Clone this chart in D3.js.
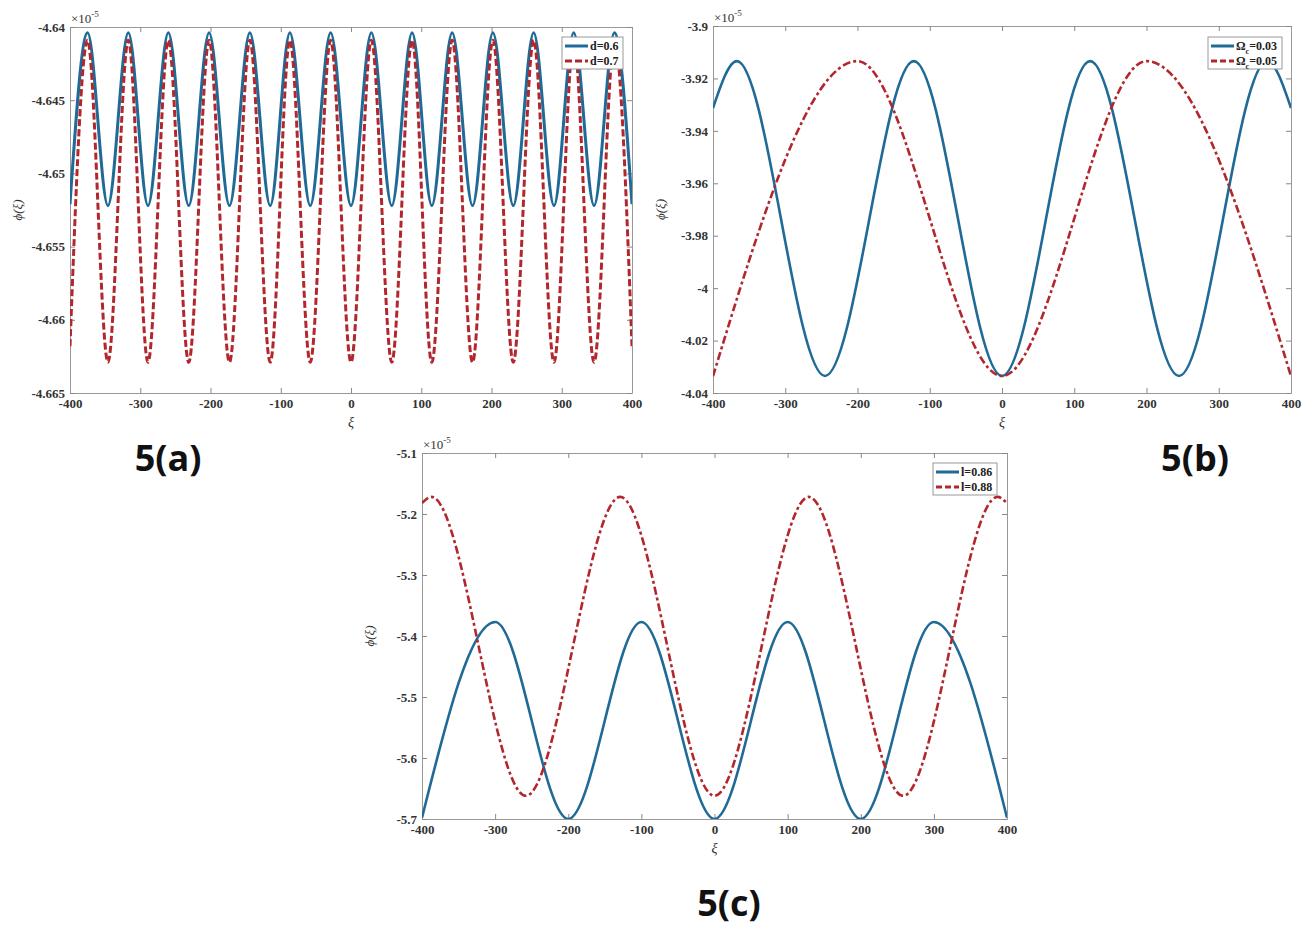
<!DOCTYPE html>
<html lang="en">
<head>
	<meta charset="UTF-8">
	<title>Figure 5 - phi(xi) profiles</title>
	<script src="https://d3js.org/d3.v7.min.js"></script>
	<style>
		body { margin: 0; background: #fff; }
		.tick text { font-family: "Liberation Serif", "Times New Roman", serif; font-weight: bold; font-size: 13px; fill: #333; }
		.tick line { stroke: #888; }
		.domain { stroke: #999; }
	</style>
</head>
<body>
	<svg width="1304" height="928"></svg>
	<script>

		// Panel (a): d = 0.6 / 0.7, values in units of 1e-5
		var xiA = [-400, -375, -346, -317, -289, -260, -231, -202, -173, -144, -115, -87, -58, -29, 0,
			29, 58, 87, 115, 144, 173, 202, 231, 260, 289, 317, 346, 375, 400];
		var d06 = [-4.6521, -4.6404, -4.6522, -4.6404, -4.6522, -4.6404, -4.6522, -4.6404, -4.6522, -4.6404, -4.6522, -4.6404, -4.6522, -4.6404, -4.6522,
			-4.6404, -4.6522, -4.6404, -4.6522, -4.6404, -4.6522, -4.6404, -4.6522, -4.6404, -4.6522, -4.6404, -4.6522, -4.6404, -4.6521];
		var d07 = [-4.6618, -4.6409, -4.6629, -4.6409, -4.6629, -4.6409, -4.6629, -4.6409, -4.6629, -4.6409, -4.6629, -4.6409, -4.6629, -4.6409, -4.6629,
			-4.6409, -4.6629, -4.6409, -4.6629, -4.6409, -4.6629, -4.6409, -4.6629, -4.6409, -4.6629, -4.6409, -4.6629, -4.6409, -4.6618];
		var yTicksA = [-4.665, -4.66, -4.655, -4.65, -4.645, -4.64];

		// Panel (b): Omega_c = 0.03 / 0.05
		var xiB1 = [-400, -367, -245, -122, 0, 122, 245, 367, 400];
		var omega003 = [-3.9313, -3.9134, -4.0335, -3.9134, -4.0335, -3.9134, -4.0335, -3.9134, -3.9313];
		var xiB2 = [-400, -200, 0, 200, 400];
		var omega005 = [-4.0336, -3.9134, -4.0335, -3.9134, -4.0336];
		var yTicksB = [-4.04, -4.02, -4, -3.98, -3.96, -3.94, -3.92, -3.9];

		// Panel (c): l = 0.86 / 0.88
		var xiC1 = [-400, -300, -200, -100, 0, 100, 200, 300, 400];
		var l086 = [-5.698, -5.377, -5.700, -5.377, -5.700, -5.377, -5.700, -5.377, -5.698];
		var xiC2 = [-400, -387, -258, -129, 0, 129, 258, 387, 400];
		var l088 = [-5.182, -5.172, -5.662, -5.172, -5.662, -5.172, -5.662, -5.172, -5.182];
		var yTicksC = [-5.7, -5.6, -5.5, -5.4, -5.3, -5.2, -5.1];

		var xTicks = [-400, -300, -200, -100, 0, 100, 200, 300, 400];

		var blue = "#1f6a96";
		var red = "#b3262c";

		var svg = d3.select("svg");

		function fmt(v) {
			return String(+v.toFixed(4)); // keep plain hyphen minus
		}

		function drawPanel(p) {
			var x = d3.scaleLinear().domain([-400, 400]).range([p.left, p.right]);
			var y = d3.scaleLinear().domain(p.yDomain).range([p.bottom, p.top]);

			var g = svg.append("g");

			// clip so curves stay inside the box
			g.append("clipPath").attr("id", "clip" + p.id)
				.append("rect")
				.attr("x", p.left).attr("y", p.top)
				.attr("width", p.right - p.left).attr("height", p.bottom - p.top);

			// Axes (MATLAB style box with inward ticks)
			g.append("g")
				.attr("transform", "translate(0," + p.bottom + ")")
				.call(d3.axisBottom(x).tickValues(xTicks).tickSizeInner(-5).tickSizeOuter(0).tickPadding(6).tickFormat(fmt));
			g.append("g")
				.attr("transform", "translate(0," + p.top + ")")
				.call(d3.axisTop(x).tickValues(xTicks).tickSizeInner(-5).tickSizeOuter(0).tickFormat(""));
			g.append("g")
				.attr("transform", "translate(" + p.left + ",0)")
				.call(d3.axisLeft(y).tickValues(p.yTicks).tickSizeInner(-5).tickSizeOuter(0).tickPadding(5).tickFormat(fmt));
			g.append("g")
				.attr("transform", "translate(" + p.right + ",0)")
				.call(d3.axisRight(y).tickValues(p.yTicks).tickSizeInner(-5).tickSizeOuter(0).tickFormat(""));

			// exponent label
			var ex = g.append("text")
				.attr("x", p.left + 1)
				.attr("y", p.top - 4)
				.style("font-family", "Liberation Serif, serif")
				.style("font-size", "13px")
				.style("fill", "#333");
			ex.append("tspan").text("\u00d710");
			ex.append("tspan").attr("dy", -6).style("font-size", "9px").text("-5");

			// axis labels
			g.append("text")
				.attr("x", (p.left + p.right) / 2)
				.attr("y", p.bottom + 34)
				.attr("text-anchor", "middle")
				.style("font-family", "Liberation Serif, serif")
				.style("font-style", "italic")
				.style("font-size", "14px")
				.style("fill", "#333")
				.text("\u03be");
			g.append("text")
				.attr("transform", "translate(" + (p.left - 48) + "," + ((p.top + p.bottom) / 2) + ") rotate(-90)")
				.attr("text-anchor", "middle")
				.style("font-family", "Liberation Serif, serif")
				.style("font-style", "italic")
				.style("font-size", "13px")
				.style("fill", "#333")
				.text("\u03d5(\u03be)");

			// Curves
			var line = d3.line()
				.x(function(d) { return x(d[0]); })
				.y(function(d) { return y(d[1]); })
				.curve(d3.curveMonotoneX);

			p.series.forEach(function(s) {
				g.append("path")
					.datum(d3.zip(s.xs, s.ys))
					.attr("clip-path", "url(#clip" + p.id + ")")
					.attr("fill", "none")
					.attr("stroke", s.color)
					.attr("stroke-width", p.lw)
					.attr("stroke-dasharray", s.dash)
					.attr("d", line);
			});

			// Legend
			var lg = g.append("g").attr("transform", "translate(" + p.legend[0] + "," + p.legend[1] + ")");
			lg.append("rect")
				.attr("width", p.legend[2])
				.attr("height", p.series.length * 15 + 2)
				.attr("fill", "#fff")
				.attr("stroke", "#999")
				.attr("stroke-width", 1);
			p.series.forEach(function(s, i) {
				var yy = 9 + i * 15;
				lg.append("line")
					.attr("x1", 3).attr("x2", 26)
					.attr("y1", yy).attr("y2", yy)
					.attr("stroke", s.color)
					.attr("stroke-width", 3)
					.attr("stroke-dasharray", s.legendDash);
				var t = lg.append("text")
					.attr("x", 28)
					.attr("y", yy + 4)
					.style("font-family", "Liberation Serif, serif")
					.style("font-weight", "bold")
					.style("font-size", "12px")
					.style("fill", "#222");
				if (s.sub) {
					t.append("tspan").text(s.label);
					t.append("tspan").attr("dy", 4).style("font-size", "8px").text(s.sub);
					t.append("tspan").attr("dy", -4).text(s.rest);
				} else {
					t.text(s.label);
				}
			});

			// Panel tag
			svg.append("text")
				.attr("x", p.tag[0])
				.attr("y", p.tag[1])
				.attr("text-anchor", "middle")
				.style("font-family", "Open Sans, sans-serif")
				.style("font-weight", "bold")
				.style("font-size", "36px")
				.style("fill", "#111")
				.text(p.tagText);
		}

		drawPanel({
			id: "a", left: 70, right: 632, top: 27, bottom: 393,
			yDomain: [-4.665, -4.64], yTicks: yTicksA, lw: 3,
			legend: [562, 37, 61], tag: [168, 471], tagText: "5(a)",
			series: [
				{ xs: xiA, ys: d06, color: blue, dash: null, legendDash: null, label: "d=0.6" },
				{ xs: xiA, ys: d07, color: red, dash: "7,3", legendDash: "7,3", label: "d=0.7" }
			]
		});

		drawPanel({
			id: "b", left: 713, right: 1291, top: 26, bottom: 393,
			yDomain: [-4.04, -3.9], yTicks: yTicksB, lw: 2.6,
			legend: [1208, 37, 74], tag: [1195, 471], tagText: "5(b)",
			series: [
				{ xs: xiB1, ys: omega003, color: blue, dash: null, legendDash: null, label: "\u03a9", sub: "c", rest: "=0.03" },
				{ xs: xiB2, ys: omega005, color: red, dash: "8,3,3,3", legendDash: "6,3", label: "\u03a9", sub: "c", rest: "=0.05" }
			]
		});

		drawPanel({
			id: "c", left: 422, right: 1007, top: 453, bottom: 819,
			yDomain: [-5.7, -5.1], yTicks: yTicksC, lw: 2.6,
			legend: [933, 463, 64], tag: [729, 916], tagText: "5(c)",
			series: [
				{ xs: xiC1, ys: l086, color: blue, dash: null, legendDash: null, label: "l=0.86" },
				{ xs: xiC2, ys: l088, color: red, dash: "8,3,3,3", legendDash: "6,3", label: "l=0.88" }
			]
		});

	</script>
</body>
</html>
